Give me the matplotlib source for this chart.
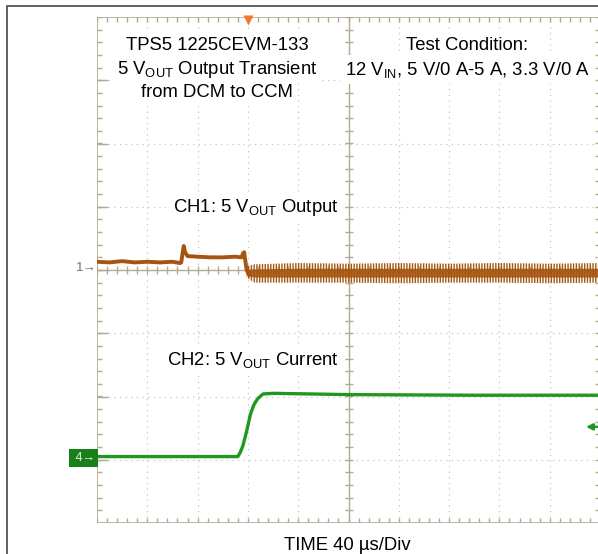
import numpy as np
import matplotlib
matplotlib.use("Agg")
import matplotlib.pyplot as plt
from matplotlib.patches import Rectangle

plt.rcParams["font.family"] = ["Liberation Sans", "DejaVu Sans"]
plt.rcParams["mathtext.fontset"] = "custom"
plt.rcParams["mathtext.rm"] = "Liberation Sans"
plt.rcParams["mathtext.it"] = "Liberation Sans"
plt.rcParams["hatch.linewidth"] = 1.0

W, H = 598, 554  # output size in px

# scope settings: 10 x 40 us horizontal, 8 vertical divisions
time_per_div = 40  # us
n_xdiv = 10
n_ydiv = 8

# CH1: 5 V output (in divisions), before the load step
ch1_t = [0, 10, 20, 30, 40, 50, 60, 66, 67, 68, 69, 70, 72, 80, 90, 100, 110, 115, 116, 117, 118, 119, 121]
ch1_v = [0.13, 0.12, 0.14, 0.12, 0.13, 0.12, 0.13, 0.11, 0.12, 0.26, 0.38, 0.28, 0.22, 0.21, 0.2, 0.2, 0.21, 0.2, 0.26, 0.28, 0.14, 0.0, -0.08]
# CH1 ripple after the step (CCM): spike extent and dense core
ch1_band_t = [119, 125, 160, 200, 240, 280, 320, 360, 400]
ch1_band_hi = [0.06, 0.09, 0.11, 0.1, 0.11, 0.1, 0.11, 0.1, 0.11]
ch1_band_lo = [-0.12, -0.2, -0.2, -0.2, -0.21, -0.2, -0.2, -0.21, -0.2]
ch1_core_hi = [0.0, 0.01, 0.02, 0.02, 0.02, 0.02, 0.02, 0.02, 0.02]
ch1_core_lo = [-0.08, -0.12, -0.12, -0.12, -0.12, -0.12, -0.12, -0.12, -0.12]

# CH2: 5 V output current (in divisions)
ch2_t = [0, 40, 80, 112, 114, 116, 119, 122, 125, 128, 132, 140, 200, 300, 400]
ch2_v = [-2.95, -2.95, -2.95, -2.95, -2.88, -2.78, -2.55, -2.28, -2.12, -2.03, -1.96, -1.95, -1.97, -1.98, -1.98]

ch1_ref = 0.03
ch2_ref = -2.97
trigger_t = 120
ch2_offscreen_level = -2.48

brown = "#a5550f"
green = "#1f981f"
box_green = "#17801a"
grat = "#b3aa92"
dots = "#c4c4c4"

fig = plt.figure(figsize=(W / 100, H / 100), dpi=100)
ax = fig.add_axes([97 / W, 1 - 523 / H, 503 / W, 506 / H])
xmax = time_per_div * n_xdiv
ax.set_xlim(0, xmax)
ax.set_ylim(-n_ydiv / 2, n_ydiv / 2)
ax.axis("off")

px_x = xmax / 503
px_y = n_ydiv / 506

# graticule
for xv in np.arange(time_per_div, xmax, time_per_div):
    if xv != xmax / 2:
        ax.axvline(xv, color=dots, lw=0.9, ls=(0, (1, 3.5)), zorder=1)
for yv in range(-3, 4):
    if yv != 0:
        ax.axhline(yv, color=dots, lw=0.9, ls=(0, (1, 3.5)), zorder=1)
ax.axvline(xmax / 2, color=grat, lw=1, zorder=1)
ax.axhline(0, color=grat, lw=1, zorder=1)
for e in [0, xmax]:
    ax.axvline(e, color=grat, lw=1.2, zorder=1)
for e in [-4, 4]:
    ax.axhline(e, color=grat, lw=1.2, zorder=1)

minor_x = np.arange(0, xmax + 0.1, time_per_div / 5)
minor_y = np.arange(-4, 4.01, 0.2)
ax.vlines(minor_x, 4 - 5 * px_y, 4, color=grat, lw=1, zorder=1)
ax.vlines(minor_x, -4, -4 + 5 * px_y, color=grat, lw=1, zorder=1)
ax.vlines(minor_x, -4 * px_y, 4 * px_y, color=grat, lw=1, zorder=1)
ax.hlines(minor_y, 0, 5 * px_x, color=grat, lw=1, zorder=1)
ax.hlines(np.arange(-3, 4), 0, 11 * px_x, color=grat, lw=1, zorder=1)
ax.hlines(minor_y, xmax - 5 * px_x, xmax, color=grat, lw=1, zorder=1)
ax.hlines(minor_y, xmax / 2 - 4 * px_x, xmax / 2 + 4 * px_x, color=grat, lw=1, zorder=1)

# traces
ax.plot(ch2_t, ch2_v, color=green, lw=2.4, zorder=3, solid_joinstyle="round")
ax.plot(ch1_t, ch1_v, color=brown, lw=2.8, zorder=3, solid_joinstyle="round")
ax.fill_between(ch1_band_t, ch1_core_lo, ch1_core_hi, facecolor=brown, alpha=0.9,
                linewidth=0, zorder=3)
ax.fill_between(ch1_band_t, ch1_band_lo, ch1_band_hi, facecolor="none", edgecolor=brown,
                hatch="||||||", linewidth=0, zorder=3)

# markers
ax.plot(trigger_t, 4 - 3 * px_y, marker="v", color="#f07a2a", ms=7, mec="none",
        clip_on=False, zorder=5)
ax.text(0, ch1_ref, "1\u2192", color="#7d735a", fontsize=9.5, ha="right",
        va="center", clip_on=False)
ax.text(-2 * px_x, ch2_ref, " 4\u2192", color="#e8f2e8", fontsize=9, ha="right", va="center",
        clip_on=False, bbox=dict(facecolor=box_green, edgecolor="none", pad=2.2))
ax.annotate("", xy=(xmax - 14 * px_x, ch2_offscreen_level),
            xytext=(xmax - 3 * px_x, ch2_offscreen_level),
            arrowprops=dict(arrowstyle="-|>", color=green, lw=1.8, mutation_scale=9,
                            shrinkA=0, shrinkB=0),
            zorder=5)


def px(x, y):
    return x / W, 1 - y / H


box = dict(facecolor="white", edgecolor="none", pad=3)
fs = 13.3
left_lines = ["TPS5 1225CEVM-133", r"5 V$_{\mathrm{OUT}}$ Output Transient", "from DCM to CCM"]
right_lines = ["Test Condition:", r"12 V$_{\mathrm{IN}}$, 5 V/0 A-5 A, 3.3 V/0 A"]
for i, s in enumerate(left_lines):
    fig.text(*px(217, 46 + 23.5 * i), s, fontsize=fs, ha="center", va="center", bbox=box)
for i, s in enumerate(right_lines):
    fig.text(*px(467, 46 + 23.5 * i), s, fontsize=fs, ha="center", va="center", bbox=box)
fig.text(*px(339, 208), r"CH1: 5 V$_{\mathrm{OUT}}$ Output", fontsize=fs, ha="right",
         va="center", bbox=box)
fig.text(*px(339, 360), r"CH2: 5 V$_{\mathrm{OUT}}$ Current", fontsize=fs, ha="right",
         va="center", bbox=box)
fig.text(*px(347, 545), "TIME 40 \u00b5s/Div", fontsize=fs, ha="center", va="center")

# outer frame
fig.patches.append(Rectangle((7 / W, 1 - 620 / H), 620 / W, 614 / H, transform=fig.transFigure,
                             fill=False, edgecolor="#555555", lw=1.3))

fig.savefig("out.png", dpi=100)
